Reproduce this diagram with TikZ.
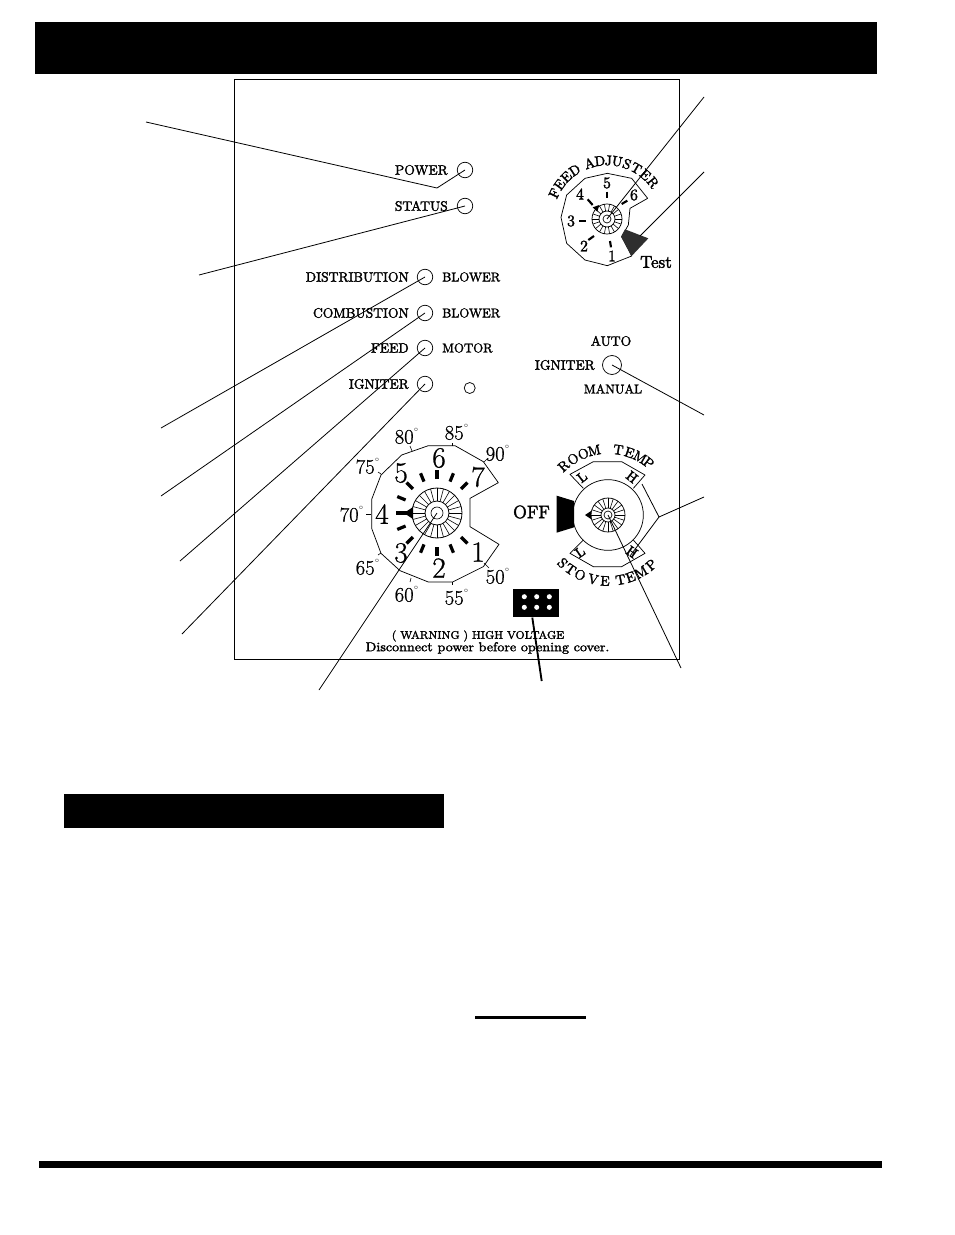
\documentclass[tikz,border=0pt]{standalone}
\usepackage{fontspec}
\usetikzlibrary{calc}
\newfontfamily\lbl[FakeBold=2]{Latin Modern Roman}
\newfontfamily\num[FakeBold=0.8]{Latin Modern Roman}
\tikzset{
  bar/.style={fill=black,draw=none},
  lead/.style={draw=black,line width=0.6pt},
  led/.style={circle,draw=black,line width=0.55pt,inner sep=0pt},
  lab/.style={inner sep=0pt,font=\lbl\fontsize{10.2}{11}\selectfont},
  labr/.style={inner sep=0pt,font=\lbl\fontsize{9.6}{11}\selectfont},
  smalltxt/.style={inner sep=0pt,font=\lbl\fontsize{9.6}{10}\selectfont},
  warn/.style={inner sep=0pt,font=\lbl\fontsize{8.3}{10}\selectfont},
  arcletter/.style={inner sep=0pt,font=\lbl\fontsize{10.5}{11}\selectfont},
  deg/.style={inner sep=0pt,font=\num\fontsize{15.5}{16}\selectfont},
  big/.style={inner sep=0pt,font=\num\fontsize{22}{22}\selectfont},
  feednum/.style={inner sep=0pt,font=\lbl\fontsize{12}{12}\selectfont},
  outline/.style={draw=black,line width=0.55pt,line join=round},
  fineline/.style={draw=black,line width=0.45pt},
  tickm/.style={draw=black,line width=2.4pt},
  tickf/.style={draw=black,line width=1.6pt},
}
\newcommand{\degs}[3]{\node[deg] at (#1,#2) {#3\raisebox{1ex}{\fontsize{6}{6}\selectfont$^{\circ}$}};}
\begin{document}
\begin{tikzpicture}[x=0.75pt,y=-0.75pt]
\useasboundingbox (0,0) rectangle (954,1235);
\fill[white] (0,0) rectangle (954,1235);
% bars
\path[bar] (35,22) rectangle (877,74);
\path[bar] (64,794) rectangle (444,828);
\path[bar] (39,1161) rectangle (882,1168);
\path[bar] (475,1016) rectangle (586,1018.5);
% panel
\draw[line width=0.7pt] (234.5,79.5) rectangle (679,659.5);
% LEDs
\node[led,minimum size=11.6pt] (pw) at (465,170) {};
\node[led,minimum size=11.6pt] (st) at (465,206) {};
\node[led,minimum size=11.6pt] (di) at (425,277) {};
\node[led,minimum size=11.6pt] (co) at (425,313) {};
\node[led,minimum size=11.6pt] (fe) at (425,348) {};
\node[led,minimum size=11.6pt] (ig) at (425,384) {};
\node[led,minimum size=8.25pt] (sm) at (469.7,388) {};
\node[led,minimum size=14.25pt] (sw) at (612,365) {};
% left labels
\node[lab,anchor=east] (tpw) at (448,170) {POWER};
\node[lab,anchor=east] (tst) at (448,206) {STATUS};
\node[lab,anchor=east] (tdi) at (409,277) {DISTRIBUTION};
\node[lab,anchor=east] (tco) at (409,313) {COMBUSTION};
\node[lab,anchor=east] (tfe) at (409,348) {FEED};
\node[lab,anchor=east] (tig) at (409,384) {IGNITER};
\node[labr,anchor=west] (tb1) at (442,277) {BLOWER};
\node[labr,anchor=west] (tb2) at (442,313) {BLOWER};
\node[labr,anchor=west] (tmo) at (442,348) {MOTOR};
\node[lab] (tau) at (611,341) {AUTO};
\node[lab,anchor=east] (tis) at (595,365) {IGNITER};
\node[labr] (tma) at (613,389) {MANUAL};
\node[warn] (tw1) at (478,636) {( WARNING ) HIGH VOLTAGE};
\node[smalltxt] (tw2) at (487.5,648) {\scalebox{1.1}[1]{Disconnect power before opening cover.}};
% Main dial
\begin{scope}[shift={(330,410)},scale=1/3]
\draw[outline] (505,218)--(420,265)--(420,350)--(507,403)--(460,470)--(368,516)--(295,516)--(210,482)--(153,430)--(125,355)--(125,268)--(153,195)--(215,135)--(295,107)--(375,107)--(460,155)--cycle;
\end{scope}
\coordinate (mc) at (437,513);
\foreach \a in {90,67.5,45,-45,-67.5,-90,-112.5,-135,-157.5,157.5,135,112.5}{
  \draw[tickm] ($(mc)+({-(\a)}:34)$) -- ($(mc)+({-(\a)}:43)$);
}
\draw[tickm] ($(mc)+(180:25)$) -- ($(mc)+(180:41)$);
\fill ($(mc)+(180:33)$) -- ($(mc)+(180:24)+(0,-6)$) -- ($(mc)+(180:24)+(0,6)$) -- cycle;
\foreach \a in {0,15,...,345}{\draw[fineline] ($(mc)+(\a:12)$) -- ($(mc)+(\a:25)$);}
\node[circle,draw,line width=0.6pt,minimum size=37.5pt,inner sep=0pt] (mo) at (mc) {};
\node[circle,draw,line width=0.6pt,minimum size=18pt,inner sep=0pt] (mm) at (mc) {};
\node[circle,draw,line width=0.5pt,minimum size=9pt,inner sep=0pt] (mi) at (mc) {};
\foreach \p/\q/\n in {478/477/7,439/458/6,401/473/5,382/514/4,401/553/3,439/568/2,478/552/1}{
  \node[big] (big\n) at (\p,\q) {\n};
}
\degs{407}{436}{80}
\degs{457}{432}{85}
\degs{498}{453}{90}
\degs{368}{466}{75}
\degs{352}{514}{70}
\degs{368}{567}{65}
\degs{407}{594}{60}
\degs{457}{597}{55}
\degs{498}{576}{50}
\draw[fineline] (410,446)--(412,451); \draw[fineline] (452,443)--(452,446); \draw[fineline] (484,462)--(487,459);
\draw[fineline] (381,474)--(378,472); \draw[fineline] (366,514)--(371,514); \draw[fineline] (381,553)--(378,555);
\draw[fineline] (411,578)--(410,582); \draw[fineline] (452,582)--(452,585); \draw[fineline] (484,563)--(489,568);
% Feed dial
\begin{scope}[shift={(520,130)},scale=1/3]
\draw[outline] (383,205)--(330,235)--(325,285)--(305,320)--(335,378)--(262,407)--(195,390)--(140,340)--(123,262)--(140,195)--(195,145)--(262,130)--(335,145)--cycle;
\draw[tickf] (262,185)--(262,205);
\draw[tickf] (203,208)--(218,225);
\draw[tickf] (177,272)--(197,272);
\draw[tickf] (205,330)--(222,318);
\draw[tickf] (270,333)--(273,352);
\draw[tickf] (305,222)--(322,212);
\path[fill=black!82] (315,298)--(385,325)--(335,378)--(303,320)--cycle;
\fill (218,232)--(238,225)--(232,245)--cycle;
\end{scope}
\coordinate (fc) at (607,219);
\foreach \a in {0,20,...,340}{\draw[fineline] ($(fc)+(\a:8)$) -- ($(fc)+(\a:15)$);}
\node[circle,draw,line width=0.55pt,minimum size=22.5pt,inner sep=0pt] (fo) at (fc) {};
\node[circle,draw,line width=0.55pt,minimum size=12pt,inner sep=0pt] (fm) at (fc) {};
\node[circle,draw,line width=0.5pt,minimum size=6pt,inner sep=0pt] (fi) at (fc) {};
\foreach \x/\y/\t in {607/183/5,580/194/4,571/221/3,584/246/2,612/256/1,634/195/6}{
  \node[feednum] (fn\t) at (\x,\y) {\t};
}
\node[inner sep=0pt,font=\lbl\fontsize{13}{14}\selectfont] (ttest) at (656,262) {Test};
\foreach \c/\a in {F/154,E/144,E/134,D/123.5,A/107.5,D/97,J/88.7,U/80,S/70,T/60,E/49,R/38.4}{
  \node[arcletter,rotate=\a-90] at ($(fc)+({-(\a)}:58.5)$) {\c};
}
% Room dial
\begin{scope}[shift={(505,440)},scale=1/3]
\draw[outline] (235,145)--(195,103)--(265,65)--(350,65)--(420,105)--(385,145);
\draw[outline] (235,300)--(195,340)--(265,380)--(350,380)--(420,340)--(385,300);
\fill (155,167)--(207,183)--(207,262)--(155,278)--cycle;
\fill (240,225)--(258,213)--(258,237)--cycle;
\end{scope}
\coordinate (rc) at (608,515);
\node[circle,draw,line width=0.55pt,minimum size=53pt,inner sep=0pt] (rr) at (rc) {};
\foreach \a in {0,18,...,342}{\draw[fineline] ($(rc)+(\a:7)$) -- ($(rc)+(\a:17)$);}
\node[circle,draw,line width=0.55pt,minimum size=25.5pt,inner sep=0pt] (ro) at (rc) {};
\node[circle,draw,line width=0.55pt,minimum size=10.5pt,inner sep=0pt] (rm) at (rc) {};
\node[circle,draw,line width=0.5pt,minimum size=6pt,inner sep=0pt] (ri) at (rc) {};
\node[inner sep=0pt,font=\lbl\fontsize{13.5}{14}\selectfont] (off) at (531.5,512) {OFF};
\foreach \c/\a in {R/132,O/122,O/112,M/102,T/81,E/71,M/61,P/52}{
  \node[arcletter,rotate=\a-90] at ($(rc)+({-(\a)}:66)$) {\c};
}
\foreach \c/\a in {S/-133.4,T/-124.6,O/-115,V/-103,E/-92.6,T/-79,E/-70,M/-60,P/-49}{
  \node[arcletter,rotate=\a+90] at ($(rc)+({-(\a)}:66)$) {\c};
}
\node[arcletter,rotate=38] at (582,477) {L};
\node[arcletter,rotate=-38] at (632,477) {H};
\node[arcletter,rotate=35] at (580,552) {L};
\node[arcletter,rotate=-35] at (632,552) {H};
% connector block
\node[fill=black,minimum width=34.5pt,minimum height=21pt,inner sep=0pt] (blk) at (536.3,603.3) {};
\foreach \x in {524.3,536.7,549.3}{\foreach \y in {596.7,607.3}{\fill[white] (\x,\y) circle (1.9pt);}}
% leaders
\coordinate (a1) at (146,122); \coordinate (a1m) at (437,188);
\coordinate (a2) at (199,275);
\coordinate (a3) at (161,428);
\coordinate (a4) at (161,496);
\coordinate (a5) at (180,561);
\coordinate (a6) at (182,634);
\coordinate (a7) at (319,690);
\coordinate (a8) at (541.7,681);
\coordinate (a8e) at ($(blk.south)+(-4,0)$);
\coordinate (a9) at (681,668);
\coordinate (b1) at (704,97);
\coordinate (b2) at (704,172);
\coordinate (b2e) at (640,236);
\coordinate (b3) at (704,415);
\coordinate (b4) at (704,497); \coordinate (b4m) at (659,517);
\coordinate (b4a) at (642,484); \coordinate (b4b) at (630,556);
\draw[lead] (a1) -- (a1m) -- (pw.center);
\draw[lead] (a2) -- (st.center);
\draw[lead] (a3) -- (di.center);
\draw[lead] (a4) -- (co.center);
\draw[lead] (a5) -- (fe.center);
\draw[lead] (a6) -- (ig.center);
\draw[lead] (a7) -- (mi.center);
\draw[line width=1.4pt] (a8) -- (a8e);
\draw[lead] (a9) -- (ri.center);
\draw[lead] (b1) -- (fi.center);
\draw[lead] (b2) -- (b2e);
\draw[lead] (b3) -- (sw.center);
\draw[lead] (b4) -- (b4m) -- (b4a);
\draw[lead] (b4m) -- (b4b);
\end{tikzpicture}
\end{document}
